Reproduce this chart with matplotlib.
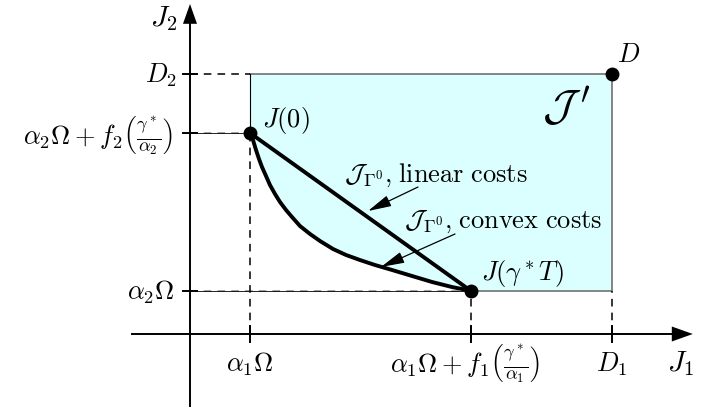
import matplotlib
matplotlib.use("Agg")
import matplotlib.pyplot as plt
import numpy as np

plt.rcParams['mathtext.fontset'] = 'cm'

# --- schematic values (abstract units, origin at axes crossing) ---
a1O = 1.0      # alpha_1 Omega
xg = 4.68      # alpha_1 Omega + f_1(gamma*/alpha_1)
D1 = 7.03
a2O = 0.72     # alpha_2 Omega
yJ0 = 3.35     # alpha_2 Omega + f_2(gamma*/alpha_2)
D2 = 4.33

# convex-cost Pareto curve from J(0) to J(gamma* T)
convex_x = [1.0, 1.05, 1.10, 1.15, 1.20, 1.267, 1.333, 1.417, 1.50, 1.60, 1.70, 1.833,
            2.0, 2.167, 2.383, 2.60, 2.833, 3.083, 3.367, 3.70, 4.033, 4.367, 4.68]
convex_y = [3.35, 3.233, 3.067, 2.917, 2.783, 2.633, 2.483, 2.333, 2.20, 2.067, 1.95, 1.80,
            1.667, 1.55, 1.417, 1.317, 1.233, 1.15, 1.067, 0.967, 0.867, 0.783, 0.72]

xtick_labels = [r'$\alpha_1\Omega$', r'$\alpha_1\Omega + f_1\left(\frac{\gamma^*}{\alpha_1}\right)$', r'$D_1$']
ytick_labels = [r'$D_2$', r'$\alpha_2\Omega + f_2\left(\frac{\gamma^*}{\alpha_2}\right)$', r'$\alpha_2\Omega$']

fig = plt.figure(figsize=(7.23, 4.10), dpi=100)
ax = fig.add_axes([0, 0, 1, 1])
ax.set_xlim(-190/60, 533/60)
ax.set_ylim(-75/60, 335/60)
ax.axis('off')

fs = 19
cyan = '#DBFFFF'
gray = '#707070'

# filled feasible region (rectangle above the convex curve)
fx = [a1O, D1, D1] + convex_x[::-1]
fy = [D2, D2, a2O] + convex_y[::-1]
ax.fill(fx, fy, color=cyan, lw=0, zorder=1)

# rectangle borders
ax.plot([a1O, D1, D1, xg], [D2, D2, a2O, a2O], color=gray, lw=1.2, zorder=2)
ax.plot([a1O, a1O], [D2, yJ0], color='k', lw=0.8, zorder=2)

# dashed guide lines
dash = dict(color='k', lw=1.1, ls=(0, (5, 4)), zorder=2)
ax.plot([0, a1O], [D2, D2], **dash)
ax.plot([0, a1O], [yJ0, yJ0], color='#888888', lw=1.1, ls=(0, (5, 4)), zorder=2)
ax.plot([0, a1O], [yJ0, yJ0], color='k', lw=0.6, zorder=2)
ax.plot([0, xg], [a2O, a2O], color='#888888', lw=1.1, ls=(0, (5, 4)), zorder=2)
ax.plot([0, xg], [a2O, a2O], color='k', lw=0.6, zorder=2)
ax.plot([a1O, a1O], [0, yJ0], **dash)
ax.plot([xg, xg], [0, a2O], **dash)
ax.plot([D1, D1], [0, a2O], **dash)

# axes with arrows
ax.plot([-58/60, 8.03], [0, 0], color='k', lw=1.4, zorder=3)
ax.fill([8.03, 8.38, 8.03], [0.125, 0, -0.125], color='k', lw=0, zorder=3)
ax.plot([0, 0], [-72/60, 5.17], color='k', lw=1.4, zorder=3)
ax.fill([-0.117, 0, 0.117], [5.17, 5.5, 5.17], color='k', lw=0, zorder=3)

# ticks
for xv in [a1O, xg, D1]:
    ax.plot([xv, xv], [-0.13, 0.13], color='k', lw=1.4, zorder=3)
for yv in [D2, yJ0, a2O]:
    ax.plot([-0.12, 0.12], [yv, yv], color='k', lw=1.4, zorder=3)

# Pareto fronts
ax.plot([a1O, xg], [yJ0, a2O], color='k', lw=2.8, zorder=4, solid_capstyle='round')
ax.plot(convex_x, convex_y, color='k', lw=2.8, zorder=4, solid_joinstyle='round')

# points
ax.plot([a1O, xg, D1], [yJ0, a2O, D2], 'o', color='k', ms=9, zorder=5)

# tick labels
for xv, lab in zip([a1O, xg - 0.1, D1], xtick_labels):
    ax.text(xv, -0.48, lab, ha='center', va='center', fontsize=fs)
for yv, lab, xo in zip([D2, yJ0 - 0.03, a2O], ytick_labels, [-0.217, -0.283, -0.25]):
    ax.text(xo, yv, lab, ha='right', va='center', fontsize=fs)

ax.text(-0.433, 5.283, r'$J_2$', ha='center', va='center', fontsize=fs + 2)
ax.text(8.167, -0.483, r'$J_1$', ha='center', va='center', fontsize=fs + 2)

ax.text(1.6, 3.583, r'$J(0)$', ha='center', va='center', fontsize=fs)
ax.text(5.533, 1.017, r'$J(\gamma^*T)$', ha='center', va='center', fontsize=fs)
ax.text(7.317, 4.667, r'$D$', ha='center', va='center', fontsize=fs)
ax.text(6.27, 3.78, r"$\mathcal{J}\,'$", ha='center', va='center', fontsize=32)

ax.text(4.1, 2.667, r'$\mathcal{J}_{\Gamma^0}{,}\;\mathrm{linear\ costs}$', ha='center', va='center', fontsize=fs)
ax.text(5.217, 1.883, r'$\mathcal{J}_{\Gamma^0}{,}\;\mathrm{convex\ costs}$', ha='center', va='center', fontsize=fs)

arr = dict(arrowstyle='-|>,head_length=0.9,head_width=0.22', color='k', lw=0.9, mutation_scale=16, shrinkA=0, shrinkB=0)
ax.annotate('', xy=(2.967, 2.05), xytext=(3.8, 2.45), arrowprops=arr, zorder=6)
ax.annotate('', xy=(3.183, 1.117), xytext=(4.417, 1.667), arrowprops=arr, zorder=6)

fig.savefig('out.png', dpi=100)
